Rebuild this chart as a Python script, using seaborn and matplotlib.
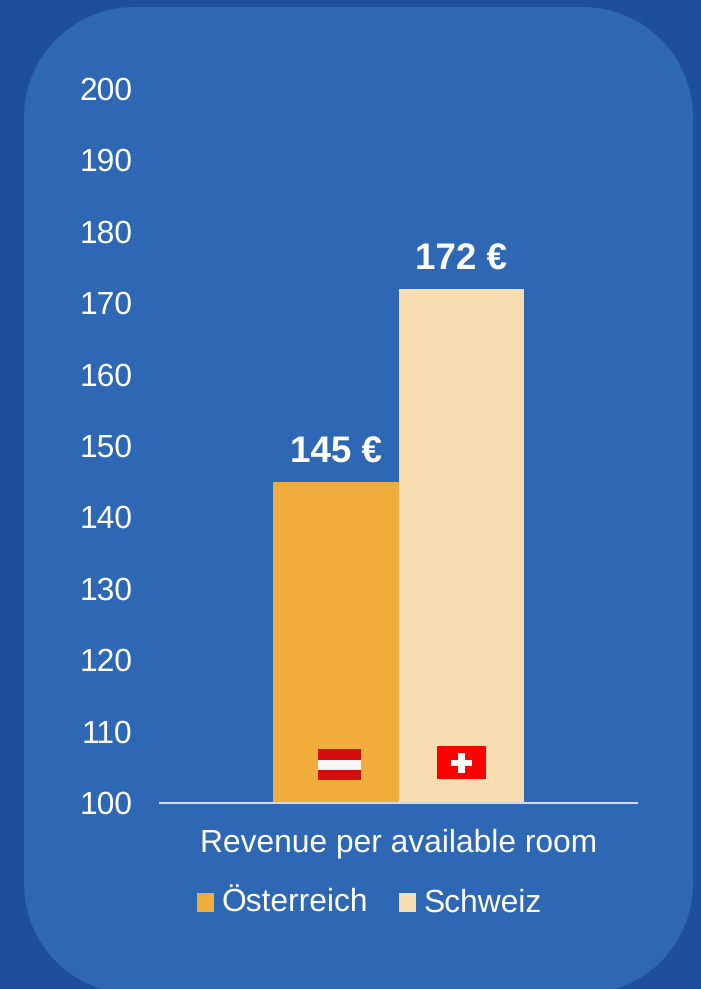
import matplotlib
matplotlib.use("Agg")
import matplotlib.pyplot as plt
import matplotlib.transforms as mtrans
import pandas as pd
import seaborn as sns
from matplotlib.patches import PathPatch, Rectangle
from matplotlib.path import Path

sns.set_theme(style="white")
plt.rcParams['font.family'] = ['Liberation Sans', 'DejaVu Sans']
plt.rcParams['text.hinting'] = 'no_hinting'

category = ['Revenue per available room']
countries = ['Österreich', 'Schweiz']
values = [145, 172]
bar_labels = ['145 €', '172 €']
y_ticks = [100, 110, 120, 130, 140, 150, 160, 170, 180, 190, 200]
bar_colors = ['#F0AD3C', '#F8DDB0']

W, H = 701, 989
BG = '#1F4E9B'
CARD = '#2E67B4'

df = pd.DataFrame({'metric': category * 2, 'land': countries, 'wert': values})

fig = plt.figure(figsize=(W / 100, H / 100), dpi=100, facecolor=BG)

# karte im hintergrund, echte kreisboegen statt FancyBboxPatch
def card_path(x0, y0, x1, y1, r):
    corners = [(x1 - r, y0 + r, 270), (x1 - r, y1 - r, 0),
               (x0 + r, y1 - r, 90), (x0 + r, y0 + r, 180)]
    verts, codes = [], []
    for cx, cy, start in corners:
        arc = Path.arc(start, start + 90)
        first = Path.LINETO if verts else Path.MOVETO
        verts.extend([(cx + vx * r, cy + vy * r) for vx, vy in arc.vertices])
        codes.extend([first] + list(arc.codes[1:]))
    verts.append(verts[0])
    codes.append(Path.CLOSEPOLY)
    return Path(verts, codes)

fig.add_artist(PathPatch(card_path(24, H - 994, 693, H - 7, 110),
                         transform=None, fc=CARD, ec='none', zorder=-5))

ax = fig.add_axes([160 / W, 1 - 803 / H, 477 / W, 714 / H])
ax.patch.set_alpha(0)
sns.barplot(data=df, x='metric', y='wert', hue='land', palette=bar_colors,
            width=0.526, gap=0, saturation=1, linewidth=0, ax=ax, legend=False)

ax.set_ylim(100, 200)
ax.set_yticks(y_ticks)
ax.set_xlabel('')
ax.set_ylabel('')
ax.tick_params(axis='both', length=0, colors='white', labelsize=22.9)
ax.tick_params(axis='y', pad=20)
ax.tick_params(axis='x', pad=18)
# y-beschriftung 1 px hoeher
up = mtrans.ScaledTranslation(0, 1 / 100, fig.dpi_scale_trans)
for lab in ax.get_yticklabels():
    lab.set_transform(lab.get_transform() + up)
sns.despine(ax=ax, left=True)
ax.spines['bottom'].set_color('#D5D9DE')
ax.spines['bottom'].set_linewidth(1.5)

for cont, lab in zip(ax.containers, bar_labels):
    ax.bar_label(cont, labels=[lab], padding=8, color='white',
                 fontsize=26.5, fontweight='bold')

# flaggen
def flag_rect(x0, y0, x1, y1, color, z=5):
    fig.add_artist(Rectangle((x0, H - y1), x1 - x0, y1 - y0,
                             transform=None, fc=color, ec='none', zorder=z))

flag_rect(318, 749, 361, 760, '#D40E0E')
flag_rect(318, 760, 361, 770, '#F5F5F5')
flag_rect(318, 770, 361, 780, '#D40E0E')
flag_rect(437, 746, 486, 779, '#FF0000')
flag_rect(451, 760, 472, 766, 'white', 6)
flag_rect(458, 753, 465, 773, 'white', 6)

handles = [Rectangle((0, 0), 1, 1, fc=c, ec='none') for c in bar_colors]
leg = fig.legend(handles, countries, loc='center', bbox_to_anchor=(369.5 / W, 1 - 903 / H),
                 ncol=2, frameon=False, fontsize=22.9, labelcolor='white',
                 handlelength=0.53, handleheight=0.53, handletextpad=0.25,
                 columnspacing=0.97, borderpad=0)
for patch in leg.get_patches():
    patch.set_y(patch.get_y() - 2)

fig.savefig('out.png', dpi=100, facecolor=BG)
